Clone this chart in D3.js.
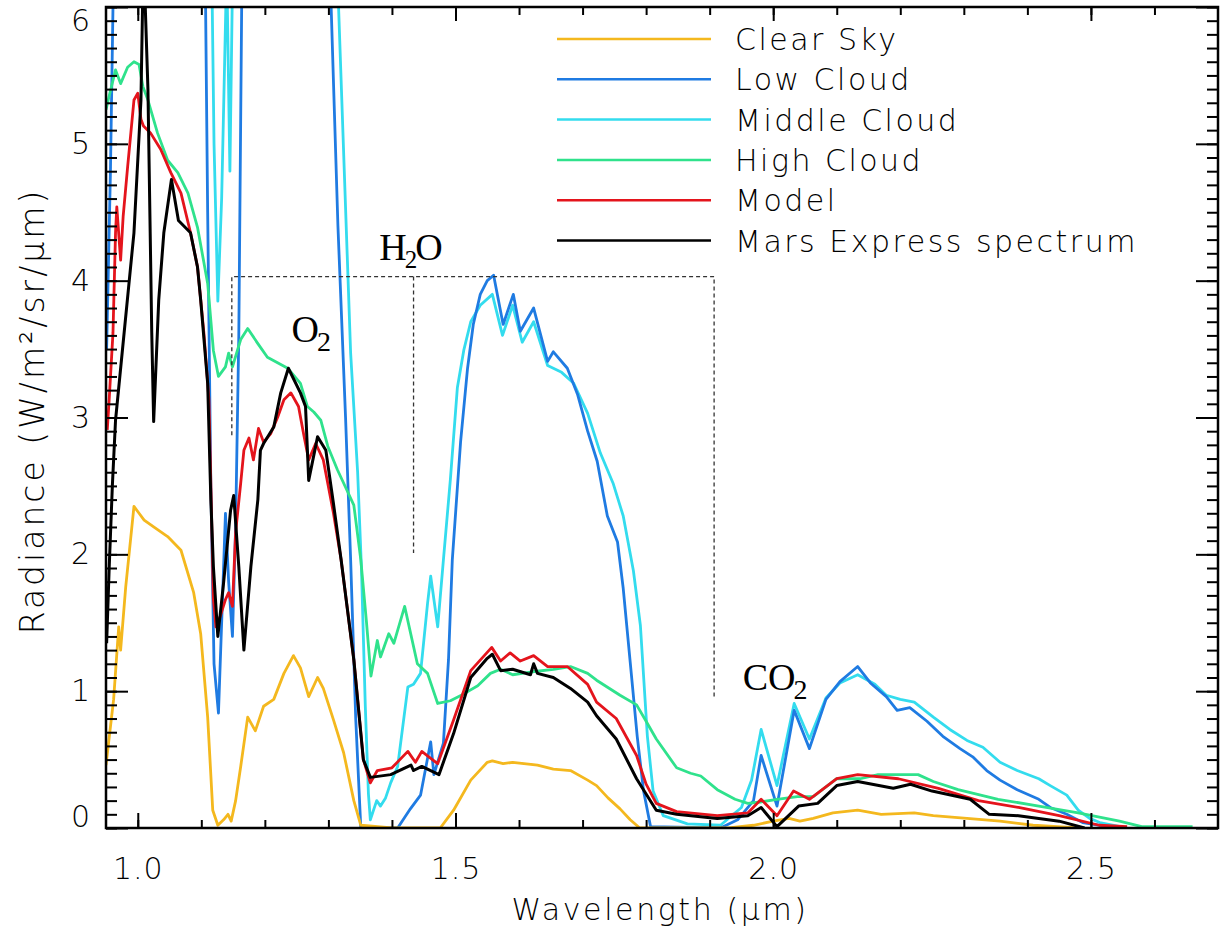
<!DOCTYPE html>
<html>
<head>
<meta charset="utf-8">
<script src="https://cdn.jsdelivr.net/npm/d3@7"></script>
<style>
  body { margin: 0; background: #fff; }
  svg { display: block; }
</style>
</head>
<body>
<div class="canvas"></div>
<script>
// [wavelength (um), radiance]
const clearSky = [[0.950,0.46],[0.962,0.94],[0.970,1.47],[0.973,1.30],[0.981,1.76],[0.994,2.35],[1.002,2.30],[1.010,2.25],[1.025,2.20],[1.047,2.13],[1.068,2.03],[1.088,1.72],[1.099,1.42],[1.110,0.81],[1.118,0.13],[1.126,0.02],[1.135,0.06],[1.142,0.10],[1.147,0.05],[1.154,0.20],[1.162,0.45],[1.173,0.81],[1.185,0.71],[1.198,0.89],[1.214,0.94],[1.230,1.13],[1.245,1.26],[1.256,1.17],[1.269,0.96],[1.283,1.10],[1.292,1.02],[1.308,0.79],[1.324,0.55],[1.340,0.20],[1.351,0.02],[1.400,0.0],[1.476,0.0],[1.497,0.13],[1.524,0.35],[1.550,0.48],[1.558,0.49],[1.575,0.47],[1.590,0.48],[1.629,0.46],[1.654,0.43],[1.681,0.42],[1.708,0.35],[1.722,0.31],[1.740,0.22],[1.759,0.14],[1.775,0.06],[1.790,0.0],[1.930,0.0],[1.969,0.02],[2.000,0.05],[2.025,0.07],[2.042,0.05],[2.063,0.07],[2.094,0.11],[2.133,0.13],[2.170,0.10],[2.222,0.11],[2.252,0.09],[2.305,0.07],[2.357,0.05],[2.409,0.02],[2.480,0.0]];

const lowCloud = [[0.951,3.50],[0.957,4.80],[0.963,6.60],[0.970,8],[1.100,8],[1.105,6.8],[1.110,4.5],[1.115,2.5],[1.120,1.20],[1.127,0.84],[1.132,1.50],[1.138,2.30],[1.143,1.80],[1.149,1.40],[1.154,2.20],[1.159,3.60],[1.165,6.8],[1.170,8],[1.295,8],[1.303,6.2],[1.315,4.4],[1.327,3.0],[1.335,1.96],[1.343,0.80],[1.351,0.0],[1.409,0.0],[1.429,0.14],[1.445,0.24],[1.461,0.63],[1.466,0.39],[1.481,0.62],[1.489,1.23],[1.495,1.96],[1.508,2.82],[1.519,3.36],[1.528,3.68],[1.539,3.90],[1.550,4.00],[1.560,4.04],[1.575,3.68],[1.591,3.90],[1.602,3.63],[1.623,3.80],[1.645,3.41],[1.654,3.48],[1.676,3.36],[1.692,3.17],[1.708,2.90],[1.723,2.68],[1.739,2.28],[1.755,2.09],[1.764,1.75],[1.775,1.21],[1.786,0.67],[1.796,0.27],[1.807,0.01],[1.917,0.0],[1.944,0.06],[1.969,0.20],[1.981,0.53],[2.006,0.16],[2.033,0.86],[2.057,0.58],[2.083,0.94],[2.105,1.07],[2.133,1.18],[2.153,1.06],[2.178,0.96],[2.195,0.86],[2.215,0.88],[2.242,0.78],[2.267,0.67],[2.294,0.58],[2.314,0.52],[2.336,0.42],[2.357,0.35],[2.384,0.28],[2.418,0.21],[2.436,0.15],[2.462,0.10],[2.487,0.04],[2.514,0.02],[2.541,0.0]];

const middleCloud = [[0.950,8],[1.108,8],[1.115,6.8],[1.120,5.0],[1.126,3.85],[1.132,4.60],[1.140,6.3],[1.145,4.80],[1.150,6.5],[1.155,8],[1.305,8],[1.316,6.0],[1.335,3.47],[1.346,2.60],[1.352,1.90],[1.358,0.90],[1.363,0.25],[1.366,0.06],[1.376,0.20],[1.382,0.16],[1.390,0.22],[1.398,0.33],[1.409,0.45],[1.425,1.03],[1.434,1.05],[1.445,1.13],[1.456,1.64],[1.461,1.84],[1.472,1.47],[1.481,1.96],[1.492,2.55],[1.503,3.22],[1.513,3.49],[1.524,3.70],[1.539,3.82],[1.558,3.90],[1.574,3.60],[1.590,3.82],[1.605,3.55],[1.623,3.70],[1.645,3.38],[1.667,3.33],[1.686,3.25],[1.708,3.03],[1.728,2.74],[1.748,2.52],[1.764,2.28],[1.780,1.88],[1.791,1.48],[1.802,0.67],[1.811,0.27],[1.827,0.09],[1.865,0.03],[1.917,0.02],[1.950,0.15],[1.966,0.35],[1.981,0.72],[2.006,0.31],[2.033,0.91],[2.057,0.65],[2.083,0.95],[2.105,1.06],[2.133,1.12],[2.160,1.05],[2.178,0.97],[2.200,0.94],[2.222,0.92],[2.252,0.81],[2.278,0.72],[2.305,0.64],[2.330,0.59],[2.357,0.48],[2.384,0.42],[2.418,0.36],[2.436,0.31],[2.462,0.24],[2.480,0.13],[2.498,0.07],[2.514,0.04],[2.546,0.01]];

const highCloud = [[0.950,5.25],[0.955,5.35],[0.965,5.54],[0.969,5.49],[0.973,5.44],[0.984,5.56],[0.994,5.60],[1.002,5.58],[1.008,5.42],[1.016,5.32],[1.031,5.08],[1.047,4.88],[1.063,4.79],[1.079,4.64],[1.094,4.39],[1.110,3.98],[1.119,3.49],[1.127,3.30],[1.138,3.37],[1.143,3.47],[1.149,3.37],[1.162,3.57],[1.173,3.65],[1.189,3.54],[1.204,3.44],[1.220,3.40],[1.236,3.36],[1.256,3.25],[1.267,3.08],[1.277,3.04],[1.288,2.98],[1.299,2.79],[1.314,2.62],[1.327,2.49],[1.340,2.36],[1.351,1.96],[1.360,1.50],[1.367,1.11],[1.377,1.37],[1.382,1.25],[1.395,1.42],[1.403,1.35],[1.420,1.62],[1.440,1.20],[1.456,1.13],[1.472,0.91],[1.492,0.93],[1.513,0.98],[1.535,1.04],[1.555,1.13],[1.571,1.16],[1.590,1.12],[1.618,1.14],[1.654,1.16],[1.681,1.18],[1.708,1.13],[1.722,1.08],[1.759,0.97],[1.785,0.90],[1.800,0.78],[1.816,0.65],[1.848,0.44],[1.870,0.40],[1.886,0.38],[1.912,0.28],[1.940,0.21],[1.960,0.18],[1.980,0.19],[2.006,0.21],[2.038,0.23],[2.063,0.23],[2.100,0.36],[2.137,0.36],[2.165,0.39],[2.228,0.39],[2.252,0.34],[2.291,0.28],[2.354,0.21],[2.418,0.16],[2.480,0.11],[2.545,0.05],[2.580,0.01],[2.619,0.01],[2.660,0.01]];

const model = [[0.952,2.91],[0.955,3.13],[0.961,3.62],[0.965,4.35],[0.967,4.54],[0.973,4.15],[0.977,4.47],[0.984,4.83],[0.994,5.32],[1.000,5.37],[1.005,5.18],[1.009,5.13],[1.020,5.08],[1.036,4.96],[1.052,4.79],[1.068,4.64],[1.083,4.35],[1.094,4.10],[1.104,3.62],[1.112,3.13],[1.115,2.52],[1.119,1.67],[1.123,1.47],[1.130,1.55],[1.138,1.67],[1.143,1.72],[1.149,1.62],[1.154,2.16],[1.162,2.52],[1.167,2.76],[1.175,2.85],[1.182,2.69],[1.190,2.92],[1.198,2.82],[1.209,2.88],[1.220,3.00],[1.230,3.13],[1.241,3.18],[1.253,3.08],[1.261,2.88],[1.269,2.69],[1.280,2.81],[1.292,2.69],[1.308,2.30],[1.320,1.96],[1.340,1.23],[1.355,0.50],[1.366,0.33],[1.377,0.42],[1.400,0.44],[1.425,0.56],[1.437,0.48],[1.447,0.56],[1.458,0.52],[1.472,0.47],[1.497,0.79],[1.524,1.15],[1.557,1.32],[1.571,1.22],[1.586,1.28],[1.602,1.22],[1.623,1.26],[1.645,1.18],[1.676,1.18],[1.708,1.05],[1.722,0.92],[1.753,0.80],[1.785,0.53],[1.800,0.32],[1.816,0.18],[1.848,0.12],[1.912,0.09],[1.960,0.11],[1.981,0.21],[2.006,0.09],[2.032,0.27],[2.057,0.21],[2.100,0.36],[2.133,0.39],[2.197,0.36],[2.260,0.29],[2.323,0.20],[2.386,0.15],[2.450,0.09],[2.513,0.02],[2.557,0.01]];

const marsExpress = [[0.951,1.35],[0.955,1.90],[0.960,2.50],[0.965,2.98],[0.994,4.35],[1.005,5.32],[1.009,6.40],[1.016,5.40],[1.022,3.62],[1.025,2.97],[1.033,3.86],[1.041,4.35],[1.053,4.74],[1.064,4.44],[1.083,4.35],[1.094,4.10],[1.099,3.86],[1.110,3.25],[1.115,2.40],[1.119,1.91],[1.126,1.40],[1.135,1.79],[1.146,2.32],[1.151,2.43],[1.159,1.91],[1.167,1.30],[1.178,1.91],[1.189,2.40],[1.193,2.76],[1.198,2.81],[1.214,2.93],[1.225,3.18],[1.237,3.36],[1.256,3.18],[1.264,3.08],[1.269,2.54],[1.283,2.86],[1.296,2.76],[1.308,2.37],[1.320,1.96],[1.340,1.23],[1.355,0.50],[1.366,0.37],[1.398,0.39],[1.430,0.46],[1.434,0.42],[1.447,0.45],[1.474,0.39],[1.497,0.69],[1.524,1.10],[1.550,1.24],[1.558,1.27],[1.571,1.15],[1.590,1.16],[1.618,1.12],[1.623,1.20],[1.629,1.13],[1.654,1.10],[1.681,1.02],[1.708,0.92],[1.722,0.82],[1.753,0.65],[1.785,0.36],[1.816,0.13],[1.848,0.10],[1.912,0.07],[1.960,0.09],[1.981,0.15],[2.006,0.01],[2.040,0.16],[2.070,0.18],[2.100,0.31],[2.133,0.34],[2.189,0.29],[2.216,0.32],[2.250,0.27],[2.310,0.21],[2.340,0.10],[2.386,0.09],[2.450,0.05],[2.490,0.0]];

const seriesNames = ['Clear Sky', 'Low Cloud', 'Middle Cloud', 'High Cloud', 'Model', 'Mars Express spectrum'];
const seriesData = [clearSky, lowCloud, middleCloud, highCloud, model, marsExpress];
const seriesColors = ['#f4b81e', '#1f7be2', '#33dcee', '#2fe28c', '#e4141c', '#000000'];

const xTickLabels = [1.0, 1.5, 2.0, 2.5];
const yTickLabels = [0, 1, 2, 3, 4, 5, 6];
const xMinorTicks = d3.range(10, 27).map(d => d / 10);
const yMinorTicks = d3.range(0, 61).map(d => d / 10);

const sans = '"DejaVu Sans", sans-serif';
const serif = '"Liberation Serif", "DejaVu Serif", serif';
const sansWeight = 300;

const svg = d3.select('.canvas').append('svg').attr('width', 1225).attr('height', 937);

const x = d3.scaleLinear().domain([0.95, 2.70]).range([106, 1218]);
const y = d3.scaleLinear().domain([0, 6]).range([828, 7]);

svg.append('clipPath').attr('id', 'plot')
  .append('rect')
  .attr('x', x(0.95)).attr('y', y(6))
  .attr('width', x(2.70) - x(0.95)).attr('height', y(0) - y(6));

//curves, spectrum drawn last so it sits on top
const line = d3.line().x(d => x(d[0])).y(d => y(d[1]));
const curves = svg.append('g').attr('clip-path', 'url(#plot)');
[2, 1, 0, 3, 4, 5].forEach(i => {
  curves.append('path')
    .attr('d', line(seriesData[i]))
    .attr('fill', 'none')
    .attr('stroke', seriesColors[i])
    .attr('stroke-width', i === 5 ? 3 : 2.8)
    .attr('stroke-linejoin', 'round');
});

//dashed bracket of the water band
const dash = svg.append('g').attr('fill', 'none').attr('stroke', '#333').attr('stroke-width', 1.3).attr('stroke-dasharray', '4,3');
dash.append('path').attr('d', d3.line()([
  [x(1.148), y(2.87)], [x(1.148), y(4.03)], [x(1.907), y(4.03)], [x(1.907), y(0.95)]
]));
dash.append('path').attr('d', d3.line()([[x(1.434), y(4.03)], [x(1.434), y(2.01)]]));

//axes, ticks on all four sides pointing inward
function styleAxis(g) {
  g.select('.domain').remove();
  g.selectAll('line').attr('stroke', '#000').attr('stroke-width', 2);
  g.attr('font-family', sans).attr('font-size', 30).attr('font-weight', sansWeight);
  g.selectAll('text').attr('fill', '#000');
}
svg.append('g').attr('transform', `translate(0,${y(0)})`)
  .call(d3.axisBottom(x).tickValues(xMinorTicks).tickSize(-8).tickFormat('')).call(styleAxis);
svg.append('g').attr('transform', `translate(0,${y(0)})`)
  .call(d3.axisBottom(x).tickValues(xTickLabels).tickSize(-15).tickPadding(30).tickFormat(d3.format('.1f')))
  .call(styleAxis)
  .selectAll('text').attr('letter-spacing', 1);
svg.append('g').attr('transform', `translate(0,${y(6)})`)
  .call(d3.axisTop(x).tickValues(xMinorTicks).tickSize(-8).tickFormat('')).call(styleAxis);
svg.append('g').attr('transform', `translate(0,${y(6)})`)
  .call(d3.axisTop(x).tickValues(xTickLabels).tickSize(-14).tickFormat('')).call(styleAxis);

svg.append('g').attr('transform', `translate(${x(0.95)},0)`)
  .call(d3.axisLeft(y).tickValues(yMinorTicks).tickSize(-11).tickFormat('')).call(styleAxis);
svg.append('g').attr('transform', `translate(${x(0.95)},0)`)
  .call(d3.axisLeft(y).tickValues(yTickLabels).tickSize(-22).tickPadding(16).tickFormat(d3.format('d')))
  .call(styleAxis)
  .selectAll('text').attr('y', d => d === 0 ? -11 : d === 6 ? 14 : 0);
svg.append('g').attr('transform', `translate(${x(2.70)},0)`)
  .call(d3.axisRight(y).tickValues(yMinorTicks).tickSize(-11).tickFormat('')).call(styleAxis);
svg.append('g').attr('transform', `translate(${x(2.70)},0)`)
  .call(d3.axisRight(y).tickValues(yTickLabels).tickSize(-22).tickFormat('')).call(styleAxis);

svg.append('rect')
  .attr('x', x(0.95)).attr('y', y(6))
  .attr('width', x(2.70) - x(0.95)).attr('height', y(0) - y(6))
  .attr('fill', 'none').attr('stroke', '#000').attr('stroke-width', 2.5);

//axis titles
svg.append('text')
  .attr('x', 660).attr('y', 920)
  .attr('text-anchor', 'middle')
  .attr('font-family', sans).attr('font-weight', sansWeight).attr('font-size', 30).attr('letter-spacing', 2.6)
  .text('Wavelength (\u03bcm)');
svg.append('text')
  .attr('transform', 'translate(44,411) rotate(-90)')
  .attr('text-anchor', 'middle')
  .attr('font-family', sans).attr('font-weight', sansWeight).attr('font-size', 33).attr('letter-spacing', 3)
  .text('Radiance (W/m\u00b2/sr/\u03bcm)');

//legend
const legend = svg.append('g');
seriesNames.forEach((name, i) => {
  const ly = 39 + i * 40.3;
  legend.append('line')
    .attr('x1', 557).attr('x2', 711).attr('y1', ly).attr('y2', ly)
    .attr('stroke', seriesColors[i]).attr('stroke-width', 2.5);
  legend.append('text')
    .attr('x', 735).attr('y', ly + 11)
    .attr('font-family', sans).attr('font-weight', sansWeight).attr('font-size', 30).attr('letter-spacing', 2.5)
    .text(name);
});

//band labels
function bandLabel(base, sub, tail, wl, val, subSize, subShift) {
  const t = svg.append('text')
    .attr('x', x(wl)).attr('y', y(val))
    .attr('font-family', serif).attr('font-size', 38);
  t.append('tspan').text(base);
  t.append('tspan').attr('font-size', subSize).attr('dy', subShift).attr('dx', -2).text(sub);
  if (tail) t.append('tspan').attr('dy', -subShift).attr('dx', -2).text(tail);
}
bandLabel('H', '2', 'O', 1.380, 4.15, 25, 8);
bandLabel('O', '2', null, 1.242, 3.55, 28, 9);
bandLabel('CO', '2', null, 1.952, 1.01, 28, 9);
</script>
</body>
</html>
